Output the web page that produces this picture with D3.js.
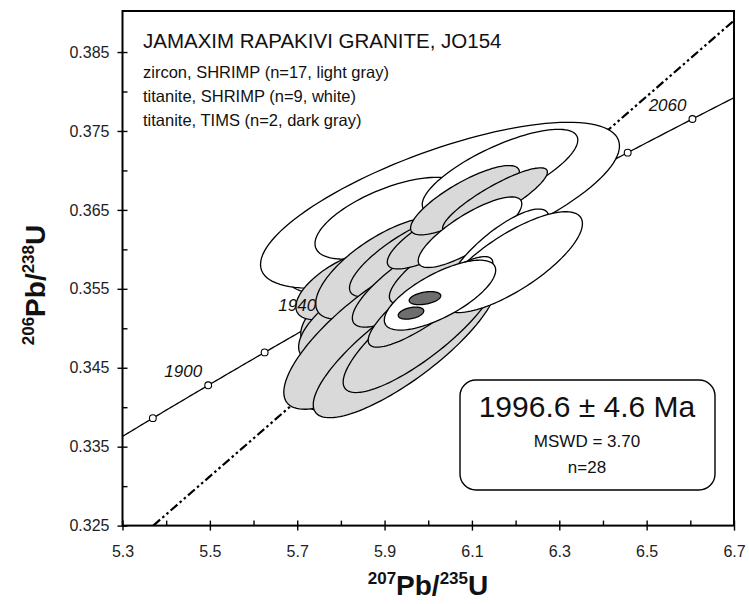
<!DOCTYPE html>
<html>
<head>
<meta charset="utf-8">
<script src="https://cdn.jsdelivr.net/npm/d3@7"></script>
<style>
  body { margin: 0; background: #fff; }
  svg { display: block; }
  text { font-family: "Liberation Sans", Arial, sans-serif; }
</style>
</head>
<body>
<svg id="chart" width="749" height="604"></svg>
<script>
// ---- data ----
var xTicks = [5.3, 5.5, 5.7, 5.9, 6.1, 6.3, 6.5, 6.7];
var xMinor = [5.4, 5.6, 5.8, 6.0, 6.2, 6.4, 6.6];
var yTicks = [0.325, 0.335, 0.345, 0.355, 0.365, 0.375, 0.385];
var yMinor = [0.330, 0.340, 0.350, 0.360, 0.370, 0.380];

// concordia ages (Ma) with markers, and the labelled ones
var markerAges = [1880, 1900, 1920, 1940, 1960, 1980, 2000, 2020, 2040, 2060];
var labelAges = [1900, 1940, 2060];
var lambda238 = 1.55125e-10, lambda235 = 9.8485e-10;

// discordia (regression) line end points
var discX = [5.3705, 6.70];
var discY = [0.3250, 0.3890];

// error ellipses in drawing order: type, 207/235, 206/238, 2s errors, rho
var ellType = ["w","w","w","w","g","g","g","g","g","g","g","g","g","g","g","g","g","g","g","g","g","w","w","w","w","w","d","d"];
var ellX   = [5.8208, 6.0269, 5.9124, 6.1643, 5.8437, 5.8094, 5.8208, 5.8781, 5.9010, 5.9582, 5.9353, 5.9239, 5.8895, 5.9468, 5.9811, 5.9811, 6.0040, 6.0383, 6.0269, 6.0841, 6.1528, 6.0956, 6.1597, 6.1917, 6.0612, 6.0269, 5.9605, 5.9925];
var ellY   = [0.35888, 0.36559, 0.36395, 0.36977, 0.35356, 0.35546, 0.35103, 0.34660, 0.35762, 0.35926, 0.35356, 0.35129, 0.34977, 0.34787, 0.34977, 0.35635, 0.35356, 0.35800, 0.36180, 0.36623, 0.36623, 0.36217, 0.35952, 0.35838, 0.35546, 0.35420, 0.35192, 0.35382];
var ellSx  = [0.1398, 0.4109, 0.1717, 0.1781, 0.1356, 0.1125, 0.1176, 0.1625, 0.1587, 0.1385, 0.1432, 0.1678, 0.2202, 0.2101, 0.1759, 0.1549, 0.1415, 0.1273, 0.1207, 0.1246, 0.1200, 0.1186, 0.1164, 0.1613, 0.0867, 0.1275, 0.02923, 0.03615];
var ellSy  = [0.00434, 0.01051, 0.00518, 0.00544, 0.00575, 0.00436, 0.00512, 0.00703, 0.00648, 0.00526, 0.00618, 0.00763, 0.01003, 0.00920, 0.00791, 0.00620, 0.00595, 0.00496, 0.00428, 0.00439, 0.00410, 0.00447, 0.00559, 0.00639, 0.00362, 0.00443, 0.000762, 0.000827];
var ellRho = [0.589, 0.714, 0.623, 0.750, 0.737, 0.626, 0.661, 0.763, 0.692, 0.790, 0.770, 0.791, 0.785, 0.821, 0.833, 0.815, 0.856, 0.802, 0.796, 0.807, 0.869, 0.806, 0.801, 0.764, 0.781, 0.714, 0.367, 0.365];

var legendLines = ["zircon, SHRIMP (n=17, light gray)", "titanite, SHRIMP (n=9, white)", "titanite, TIMS (n=2, dark gray)"];
var title = "JAMAXIM RAPAKIVI GRANITE, JO154";
var ageText = ["1996.6 \u00b1 4.6 Ma", "MSWD = 3.70", "n=28"];

// ---- layout ----
var pL = 122.5, pR = 734, pT = 11, pB = 525.6;
var fill = { w: "#ffffff", g: "#d9d9d9", d: "#6e6e6e" };

var svg = d3.select("#chart");

var x = d3.scaleLinear().domain([5.3, 6.7]).range([pL, pR]);
var y = d3.scaleLinear().domain([0.325, 0.3902]).range([pB, pT]);

svg.append("defs").append("clipPath").attr("id", "plot")
  .append("rect")
  .attr("x", pL).attr("y", pT)
  .attr("width", pR - pL).attr("height", pB - pT);

var plot = svg.append("g").attr("clip-path", "url(#plot)");

// discordia
plot.append("line")
  .attr("x1", x(discX[0])).attr("y1", y(discY[0]))
  .attr("x2", x(discX[1])).attr("y2", y(discY[1]))
  .attr("stroke", "#000")
  .attr("stroke-width", 2.2)
  .attr("stroke-dasharray", "9,3,2.5,3,2.5,3");

// concordia
function conc(t) {
  return [Math.exp(lambda235 * t * 1e6) - 1, Math.exp(lambda238 * t * 1e6) - 1];
}
var tLo = Math.log(1 + 5.3) / lambda235 / 1e6 - 1;
var tHi = Math.log(1 + 6.7) / lambda235 / 1e6 + 1;
var ages = d3.range(tLo, tHi, 1);
plot.append("path")
  .datum(ages.map(conc))
  .attr("fill", "none")
  .attr("stroke", "#000")
  .attr("stroke-width", 1.3)
  .attr("d", d3.line().x(function(d) { return x(d[0]); }).y(function(d) { return y(d[1]); }));

plot.selectAll(".mk")
  .data(markerAges)
  .enter().append("circle")
  .attr("cx", function(d) { return x(conc(d)[0]); })
  .attr("cy", function(d) { return y(conc(d)[1]); })
  .attr("r", 3.4)
  .attr("fill", "#fff")
  .attr("stroke", "#000")
  .attr("stroke-width", 1.1);

// error ellipses
var ellLine = d3.line().curve(d3.curveLinearClosed);
var steps = d3.range(0, 2 * Math.PI, Math.PI / 60);
ellType.forEach(function(type, i) {
  var r = ellRho[i], k = Math.sqrt(1 - r * r);
  var pts = steps.map(function(t) {
    var u = Math.cos(t), v = Math.sin(t);
    return [x(ellX[i] + ellSx[i] * u), y(ellY[i] + ellSy[i] * (r * u + k * v))];
  });
  plot.append("path")
    .attr("d", ellLine(pts))
    .attr("fill", fill[type])
    .attr("stroke", "#000")
    .attr("stroke-width", 1.3)
    .attr("stroke-linejoin", "round");
});

// concordia age labels
svg.selectAll(".agelab")
  .data(labelAges)
  .enter().append("text")
  .attr("x", function(d) { return x(conc(d)[0]) - 6; })
  .attr("y", function(d) { return y(conc(d)[1]) - 8; })
  .attr("text-anchor", "end")
  .style("font-size", "17px")
  .style("font-style", "italic")
  .style("fill", "#111")
  .text(function(d) { return d; });

// ---- axes ----
function styleAxis(g) {
  g.select(".domain").remove();
  g.selectAll("line").attr("stroke", "#000").attr("stroke-width", 1.4);
  g.selectAll("text").style("font-size", "16px").style("fill", "#222")
    .style("font-family", "'Liberation Sans', Arial, sans-serif");
}

svg.append("g").attr("transform", "translate(0," + pB + ")")
  .call(d3.axisBottom(x).tickValues(xTicks).tickSize(5).tickPadding(15).tickFormat(d3.format(".1f")))
  .call(styleAxis);
svg.append("g").attr("transform", "translate(0," + pB + ")")
  .call(d3.axisBottom(x).tickValues(xTicks).tickSize(-5).tickFormat(""))
  .call(styleAxis);
svg.append("g").attr("transform", "translate(0," + pB + ")")
  .call(d3.axisBottom(x).tickValues(xMinor).tickSize(-5).tickFormat(""))
  .call(styleAxis);

svg.append("g").attr("transform", "translate(" + pL + ",0)")
  .call(d3.axisLeft(y).tickValues(yTicks).tickSize(5).tickPadding(8).tickFormat(d3.format(".3f")))
  .call(styleAxis);
svg.append("g").attr("transform", "translate(" + pL + ",0)")
  .call(d3.axisLeft(y).tickValues(yTicks).tickSize(-5).tickFormat(""))
  .call(styleAxis);
svg.append("g").attr("transform", "translate(" + pL + ",0)")
  .call(d3.axisLeft(y).tickValues(yMinor).tickSize(-5).tickFormat(""))
  .call(styleAxis);

// frame
svg.append("rect")
  .attr("x", pL).attr("y", pT)
  .attr("width", pR - pL).attr("height", pB - pT)
  .attr("fill", "none")
  .attr("stroke", "#000")
  .attr("stroke-width", 2);

// ---- texts ----
svg.append("text")
  .attr("x", 143).attr("y", 48)
  .style("font-size", "20.5px")
  .style("fill", "#111")
  .text(title);

svg.selectAll(".leg")
  .data(legendLines)
  .enter().append("text")
  .attr("x", 143)
  .attr("y", function(d, i) { return 78 + i * 24; })
  .style("font-size", "16.5px")
  .style("fill", "#111")
  .text(function(d) { return d; });

// age box
svg.append("rect")
  .attr("x", 460).attr("y", 380)
  .attr("width", 255).attr("height", 110)
  .attr("rx", 16)
  .attr("fill", "#fff")
  .attr("stroke", "#000")
  .attr("stroke-width", 1.4);

svg.append("text")
  .attr("x", 587).attr("y", 417)
  .attr("text-anchor", "middle")
  .style("font-size", "30px")
  .style("fill", "#111")
  .text(ageText[0]);
svg.append("text")
  .attr("x", 587).attr("y", 447)
  .attr("text-anchor", "middle")
  .style("font-size", "17px")
  .style("fill", "#111")
  .text(ageText[1]);
svg.append("text")
  .attr("x", 587).attr("y", 473)
  .attr("text-anchor", "middle")
  .style("font-size", "17px")
  .style("fill", "#111")
  .text(ageText[2]);

// axis titles
function isoTitle(sel, a, b) {
  sel.style("font-weight", "bold").style("fill", "#111");
  sel.append("tspan").attr("dy", "-11").style("font-size", "17px").text(a);
  sel.append("tspan").attr("dy", "11").style("font-size", "28px").text("Pb/");
  sel.append("tspan").attr("dy", "-11").style("font-size", "17px").text(b);
  sel.append("tspan").attr("dy", "11").style("font-size", "28px").text("U");
}

svg.append("text")
  .attr("x", 428).attr("y", 595)
  .attr("text-anchor", "middle")
  .call(isoTitle, "207", "235");

svg.append("text")
  .attr("transform", "translate(45,285) rotate(-90)")
  .attr("text-anchor", "middle")
  .call(isoTitle, "206", "238");
</script>
</body>
</html>
